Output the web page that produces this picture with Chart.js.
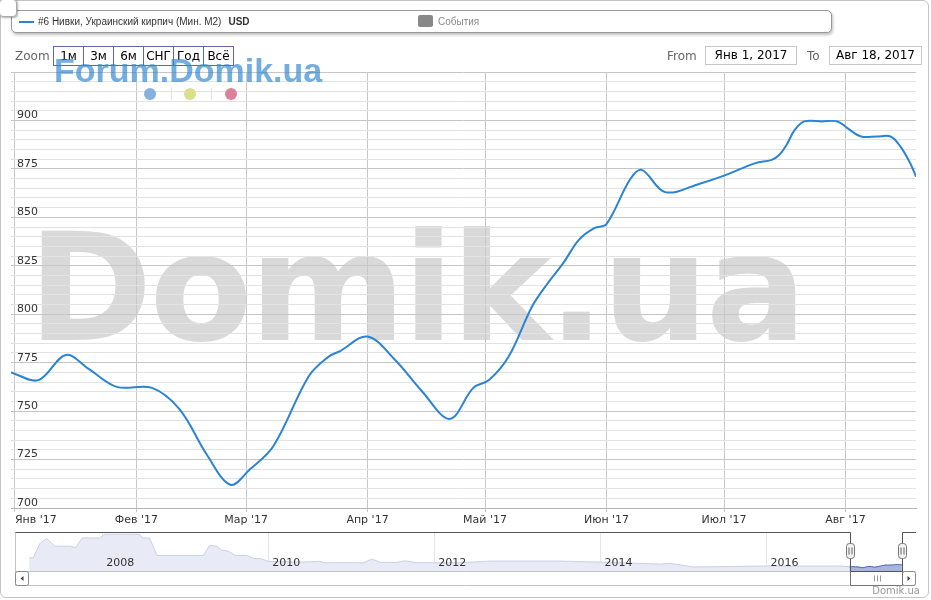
<!DOCTYPE html>
<html><head><meta charset="utf-8">
<script src="https://cdn.jsdelivr.net/npm/chart.js@4/dist/chart.umd.min.js"></script>
<style>
body{margin:0;background:#fff;width:931px;height:600px;overflow:hidden;font-family:"DejaVu Sans",sans-serif;position:relative}
.abs{position:absolute}
#frame{left:0;top:0;width:927px;height:596px;border:1px solid #c4c4c4;border-radius:6px;z-index:0}
#wm{left:28px;top:213px;font:bold 150px/150px "DejaVu Sans",sans-serif;letter-spacing:-3px;color:#d9d9d9;white-space:nowrap;z-index:1}
#main{left:0;top:0;z-index:2}
#nav{left:15px;top:531px;z-index:2}
#fw{left:54px;top:53px;font:bold 34px/34px "Liberation Sans",Arial,sans-serif;color:rgba(50,135,210,0.68);white-space:nowrap;z-index:5}
.dot{width:12px;height:12px;border-radius:6px;top:88px;z-index:5}
.sep{width:1px;height:12px;top:88px;background:#e2e2e2;z-index:5}
#tab{left:-1px;top:-1px;width:16px;height:16px;border:1px solid #aaa;border-radius:4px;background:#fff;box-shadow:1px 1px 2px rgba(0,0,0,.3);z-index:6}
#legend{left:11px;top:10px;width:819px;height:21px;border:1px solid #999;border-radius:5px;background:#fff;box-shadow:1px 2px 3px rgba(0,0,0,.25);z-index:5}
#legend .t{font:10px/12px "Liberation Sans",Arial,sans-serif;color:#333;white-space:nowrap;top:5px}
#legend b{margin-left:7px}
.lbl{font-size:12px;line-height:18px;color:#666;top:47px;z-index:5;white-space:nowrap}
#btns{left:53px;top:46px;height:18px;border:1px solid #5b6aa6;display:flex;z-index:4}
#btns div{width:29px;height:18px;line-height:18px;text-align:center;font-size:12px;color:#000;border-left:1px solid #5b6aa6}
#btns div:first-child{border-left:none}
.inp{top:46px;height:17px;border:1px solid #c8c8c8;font-size:12px;line-height:17px;text-align:center;color:#000;z-index:5;background:#fff}
#credit{right:11px;top:585px;font-size:10px;line-height:12px;color:#999;z-index:5}
</style></head>
<body>
<div id="frame" class="abs"></div>
<div id="wm" class="abs">Domik.ua</div>
<canvas id="main" class="abs" width="931" height="600"></canvas>
<canvas id="nav" class="abs" width="901" height="56"></canvas>
<div id="fw" class="abs">Forum.Domik.ua</div>
<div class="abs dot" style="left:144px;background:#86b1de"></div>
<div class="abs sep" style="left:171px"></div>
<div class="abs dot" style="left:184px;background:#d9df8b"></div>
<div class="abs sep" style="left:211px"></div>
<div class="abs dot" style="left:225px;background:#dc8199"></div>
<div id="tab" class="abs"></div>
<div id="legend" class="abs">
  <div class="abs" style="left:7px;top:10px;width:15px;height:2px;background:#2b83d3"></div>
  <div class="abs t" style="left:26px">#6 Нивки, Украинский кирпич (Мин. М2)<b>USD</b></div>
  <div class="abs" style="left:406px;top:4px;width:15px;height:12px;border-radius:2px;background:#888"></div>
  <div class="abs t" style="left:426px;color:#888">События</div>
</div>
<div class="abs lbl" style="left:15px">Zoom</div>
<div id="btns" class="abs"><div>1м</div><div>3м</div><div>6м</div><div>СНГ</div><div>Год</div><div>Всё</div></div>
<div class="abs lbl" style="left:667px">From</div>
<div class="abs inp" style="left:705px;width:90px">Янв 1, 2017</div>
<div class="abs lbl" style="left:807px">To</div>
<div class="abs inp" style="left:829px;width:91px">Авг 18, 2017</div>
<div id="credit" class="abs">Domik.ua</div>
<script>
// ---- main series (day of 2017, price USD) ----
const days   = [-1, 6, 13, 19, 26, 35, 42, 49, 55, 60, 66, 75, 80, 83, 90, 97, 104, 111, 117, 121, 126, 132, 136, 140, 144, 148, 151, 157, 160, 166, 175, 181, 189, 193, 195, 197, 199, 201.5, 206, 210, 212.5, 216, 220, 223.5, 226, 228.5, 230];
const prices = [770, 766, 779, 771.5, 762.5, 762, 751, 727.5, 712, 720, 732, 768, 778, 781, 788.5, 776.5, 760, 746, 762, 766, 778, 804, 816, 826.5, 838.5, 844.5, 846.5, 869.5, 874.5, 863, 867.5, 871.5, 878, 879.5, 882, 887.5, 895, 899.5, 899.5, 899.5, 896, 891.7, 891.7, 891.7, 886.6, 878, 871];
const monthStarts = [0, 31, 59, 90, 120, 151, 181, 212];
const monthLabels = ["Янв '17", "Фев '17", "Мар '17", "Апр '17", "Май '17", "Июн '17", "Июл '17", "Авг '17"];
const yLabels = [700, 725, 750, 775, 800, 825, 850, 875, 900];
// ---- navigator history (year, price USD) ----
const navYears  = [2007.12, 2007.17, 2007.25, 2007.33, 2007.43, 2007.61, 2007.68, 2007.76, 2007.97, 2008.03, 2008.45, 2008.49, 2008.57, 2008.66, 2009.22, 2009.29, 2009.38, 2009.44, 2009.52, 2009.60, 2009.74, 2009.82, 2009.92, 2010.00, 2010.38, 2010.62, 2010.68, 2011.14, 2011.25, 2011.35, 2011.55, 2011.65, 2011.79, 2012.31, 2012.67, 2013.51, 2014.00, 2014.72, 2014.84, 2015.12, 2015.92, 2016.89];
const navValues = [1291, 1291, 2127, 2417, 1970, 1970, 1895, 2451, 2451, 2666, 2666, 2451, 2451, 1431, 1431, 2011, 1970, 1738, 1680, 1431, 1431, 1257, 1233, 1083, 1042, 1083, 1001, 1001, 1216, 1025, 1025, 1117, 1001, 1001, 1100, 1100, 1042, 926, 967, 752, 810, 810];
const navYearTicks = [2008, 2010, 2012, 2014, 2016];

const yGrid = [];
for (let v = 700; v <= 925; v += 5) yGrid.push(v);
const FONT = {family: 'DejaVu Sans', size: 11};
const LINE = '#2b83d3';

new Chart(document.getElementById('main'), {
  type: 'line',
  data: {datasets: [{data: days.map((d, i) => ({x: d, y: prices[i]})), borderColor: LINE, borderWidth: 2, pointRadius: 0, tension: 0.35, fill: false}]},
  options: {
    responsive: false, animation: false, events: [],
    layout: {padding: {left: 11, right: 15, top: 72, bottom: 70}},
    plugins: {legend: {display: false}, tooltip: {enabled: false}},
    scales: {
      x: {
        type: 'linear', min: -1, max: 230,
        afterBuildTicks: s => { s.ticks = monthStarts.map(v => ({value: v})).concat([{value: 230}]); },
        afterFit: s => { s.height = 22; s.paddingLeft = 0; s.paddingRight = 0; },
        grid: {color: c => (c.tick && c.tick.value === 230) ? 'rgba(0,0,0,0)' : '#c8c8c8', tickLength: 4},
        border: {display: true, color: '#b4b4b4'},
        ticks: {autoSkip: false, maxRotation: 0, align: 'inner', padding: 2, color: '#333', font: FONT,
          callback: v => { const i = monthStarts.indexOf(v); return i >= 0 ? monthLabels[i] : ''; }}
      },
      y: {
        type: 'linear', min: 700, max: 925,
        afterBuildTicks: s => { s.ticks = yGrid.map(v => ({value: v})); },
        afterFit: s => { s.width = 0; },
        grid: {color: c => (c.tick && c.tick.value % 25 === 0) ? '#c6c6c6' : '#e3e3e3', drawTicks: false},
        border: {display: false},
        ticks: {mirror: true, padding: 6, labelOffset: -5, autoSkip: false, color: '#333', font: FONT,
          callback: v => yLabels.includes(v) ? String(v) : ''}
      }
    }
  }
});

const sel0 = 2017, sel1 = 2017 + 229 / 365;
const histPts = navYears.map((y, i) => ({x: y, y: navValues[i]}));
const selPts = days.map((d, i) => ({x: 2017 + d / 365, y: prices[i]}));
histPts.push(selPts[0]);

function rr(ctx, x, y, w, h, r) {
  ctx.beginPath();
  ctx.moveTo(x + r, y); ctx.lineTo(x + w - r, y); ctx.quadraticCurveTo(x + w, y, x + w, y + r);
  ctx.lineTo(x + w, y + h - r); ctx.quadraticCurveTo(x + w, y + h, x + w - r, y + h);
  ctx.lineTo(x + r, y + h); ctx.quadraticCurveTo(x, y + h, x, y + h - r);
  ctx.lineTo(x, y + r); ctx.quadraticCurveTo(x, y, x + r, y); ctx.closePath();
}
const navDeco = {
  id: 'navDeco',
  afterDraw(chart) {
    const ctx = chart.ctx, a = chart.chartArea, xs = chart.scales.x;
    const p0 = Math.round(xs.getPixelForValue(sel0)) + 0.5, p1 = Math.round(xs.getPixelForValue(sel1)) + 0.5;
    const top = Math.round(a.top) + 0.5, bot = Math.round(a.bottom) + 0.5, L = Math.round(a.left) + 0.5, R = Math.round(a.right) - 0.5;
    const sb = bot + 14;
    ctx.save();
    // year labels from the scale's ticks
    ctx.fillStyle = '#333'; ctx.font = '11px "DejaVu Sans"'; ctx.textAlign = 'left'; ctx.textBaseline = 'middle';
    for (const t of xs.ticks) ctx.fillText(String(t.value), xs.getPixelForValue(t.value) + 4, a.bottom - 8);
    ctx.lineWidth = 1;
    ctx.strokeStyle = '#c4c4c4';
    ctx.beginPath(); ctx.moveTo(L, top); ctx.lineTo(L, sb); ctx.moveTo(L, bot); ctx.lineTo(R, bot); ctx.moveTo(L, sb); ctx.lineTo(R, sb); ctx.stroke();
    ctx.fillStyle = '#fff'; ctx.strokeStyle = '#8a8a8a';
    rr(ctx, L, bot, 13, 14, 2); ctx.fill(); ctx.stroke();
    rr(ctx, R - 13, bot, 13, 14, 2); ctx.fill(); ctx.stroke();
    ctx.fillStyle = '#444';
    ctx.beginPath(); ctx.moveTo(L + 5, bot + 7); ctx.lineTo(L + 8, bot + 4.5); ctx.lineTo(L + 8, bot + 9.5); ctx.closePath(); ctx.fill();
    ctx.beginPath(); ctx.moveTo(R - 5, bot + 7); ctx.lineTo(R - 8, bot + 4.5); ctx.lineTo(R - 8, bot + 9.5); ctx.closePath(); ctx.fill();
    ctx.strokeStyle = '#777';
    ctx.beginPath(); ctx.moveTo(p0, bot); ctx.lineTo(p0, sb); ctx.lineTo(p1, sb); ctx.lineTo(p1, bot); ctx.stroke();
    const cx = Math.round((p0 + p1) / 2) + 0.5;
    ctx.strokeStyle = '#999';
    ctx.beginPath();
    for (const dx of [-3, 0, 3]) { ctx.moveTo(cx + dx, bot + 4); ctx.lineTo(cx + dx, sb - 4); }
    ctx.stroke();
    ctx.strokeStyle = '#555';
    ctx.beginPath(); ctx.moveTo(L, top); ctx.lineTo(p0, top); ctx.lineTo(p0, bot); ctx.lineTo(p1, bot); ctx.lineTo(p1, top); ctx.lineTo(R + 0.5, top); ctx.stroke();
    const hy = Math.round(a.top + 11) + 0.5;
    for (const p of [p0, p1]) {
      ctx.fillStyle = '#f2f2f2'; ctx.strokeStyle = '#777';
      rr(ctx, p - 4, hy, 8, 15, 3); ctx.fill(); ctx.stroke();
      ctx.strokeStyle = '#666';
      ctx.beginPath(); ctx.moveTo(p - 1.5, hy + 4); ctx.lineTo(p - 1.5, hy + 11); ctx.moveTo(p + 1.5, hy + 4); ctx.lineTo(p + 1.5, hy + 11); ctx.stroke();
    }
    ctx.restore();
  }
};

new Chart(document.getElementById('nav'), {
  type: 'line',
  data: {datasets: [
    {data: histPts, borderColor: '#c9d0e8', borderWidth: 1, backgroundColor: '#e8ebf5', fill: 'start', pointRadius: 0, tension: 0},
    {data: selPts, borderColor: '#3b5ca8', borderWidth: 1, backgroundColor: '#a9b5de', fill: 'start', pointRadius: 0, tension: 0}
  ]},
  options: {
    responsive: false, animation: false, events: [],
    layout: {padding: {left: 0, right: 0, top: 1, bottom: 16}},
    plugins: {legend: {display: false}, tooltip: {enabled: false}},
    scales: {
      x: {
        type: 'linear', min: 2006.95, max: 2017.8,
        afterBuildTicks: s => { s.ticks = navYearTicks.map(v => ({value: v})); },
        afterFit: s => { s.height = 0; s.paddingLeft = 0; s.paddingRight = 0; },
        grid: {color: '#e6e6e6', drawTicks: false},
        border: {display: false},
        ticks: {display: false}
      },
      y: {type: 'linear', display: false, min: 520, max: 2800}
    }
  },
  plugins: [navDeco]
});
</script>
</body></html>
